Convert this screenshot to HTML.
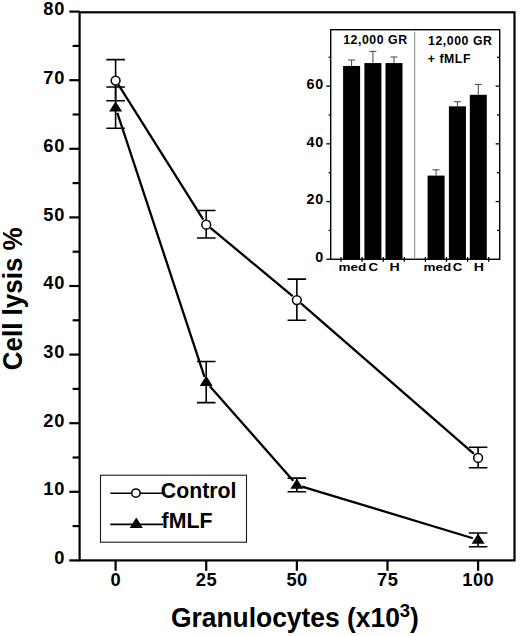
<!DOCTYPE html>
<html><head><meta charset="utf-8"><title>Cell lysis chart</title>
<style>html,body{margin:0;padding:0;background:#fff}svg{display:block}text{font-family:"Liberation Sans",sans-serif;font-weight:bold;fill:#000}</style></head><body>
<svg width="520" height="636" viewBox="0 0 520 636">
<rect width="520" height="636" fill="#fff"/>
<g stroke="#000" stroke-width="2.2" fill="none">
<rect x="79.6" y="12.3" width="434.9" height="548.1"/>
<line x1="69.3" y1="560.40" x2="79.6" y2="560.40"/>
<line x1="72.6" y1="526.10" x2="79.6" y2="526.10"/>
<line x1="69.3" y1="491.80" x2="79.6" y2="491.80"/>
<line x1="72.6" y1="457.50" x2="79.6" y2="457.50"/>
<line x1="69.3" y1="423.20" x2="79.6" y2="423.20"/>
<line x1="72.6" y1="388.90" x2="79.6" y2="388.90"/>
<line x1="69.3" y1="354.60" x2="79.6" y2="354.60"/>
<line x1="72.6" y1="320.30" x2="79.6" y2="320.30"/>
<line x1="69.3" y1="286.00" x2="79.6" y2="286.00"/>
<line x1="72.6" y1="251.70" x2="79.6" y2="251.70"/>
<line x1="69.3" y1="217.40" x2="79.6" y2="217.40"/>
<line x1="72.6" y1="183.10" x2="79.6" y2="183.10"/>
<line x1="69.3" y1="148.80" x2="79.6" y2="148.80"/>
<line x1="72.6" y1="114.50" x2="79.6" y2="114.50"/>
<line x1="69.3" y1="80.20" x2="79.6" y2="80.20"/>
<line x1="72.6" y1="45.90" x2="79.6" y2="45.90"/>
<line x1="69.3" y1="11.60" x2="79.6" y2="11.60"/>
<line x1="115.60" y1="560.4" x2="115.60" y2="570.8"/>
<line x1="206.22" y1="560.4" x2="206.22" y2="570.8"/>
<line x1="296.85" y1="560.4" x2="296.85" y2="570.8"/>
<line x1="387.48" y1="560.4" x2="387.48" y2="570.8"/>
<line x1="478.10" y1="560.4" x2="478.10" y2="570.8"/>
</g>
<text x="65.4" y="563.80" font-size="18.3" letter-spacing="0.9" text-anchor="end">0</text>
<text x="65.4" y="495.20" font-size="18.3" letter-spacing="0.9" text-anchor="end">10</text>
<text x="65.4" y="426.60" font-size="18.3" letter-spacing="0.9" text-anchor="end">20</text>
<text x="65.4" y="358.00" font-size="18.3" letter-spacing="0.9" text-anchor="end">30</text>
<text x="65.4" y="289.40" font-size="18.3" letter-spacing="0.9" text-anchor="end">40</text>
<text x="65.4" y="220.80" font-size="18.3" letter-spacing="0.9" text-anchor="end">50</text>
<text x="65.4" y="152.20" font-size="18.3" letter-spacing="0.9" text-anchor="end">60</text>
<text x="65.4" y="83.60" font-size="18.3" letter-spacing="0.9" text-anchor="end">70</text>
<text x="65.4" y="15.00" font-size="18.3" letter-spacing="0.9" text-anchor="end">80</text>
<text x="115.80" y="586.4" font-size="18.3" letter-spacing="0.5" text-anchor="middle">0</text>
<text x="206.42" y="586.4" font-size="18.3" letter-spacing="0.5" text-anchor="middle">25</text>
<text x="297.05" y="586.4" font-size="18.3" letter-spacing="0.5" text-anchor="middle">50</text>
<text x="387.68" y="586.4" font-size="18.3" letter-spacing="0.5" text-anchor="middle">75</text>
<text x="478.30" y="586.4" font-size="18.3" letter-spacing="0.5" text-anchor="middle">100</text>
<text transform="translate(171,626.6) scale(1,1.04)" font-size="26.4">Granulocytes (x10<tspan font-size="18.5" dy="-9.5">3</tspan><tspan dy="9.5">)</tspan></text>
<text transform="translate(22.4,298.8) rotate(-90) scale(1,1.06)" font-size="26" text-anchor="middle">Cell lysis %</text>
<path d="M118.53 84.86L203.30 219.60M210.45 227.78L292.62 296.20M301.00 303.33L473.95 453.89" fill="none" stroke="#000" stroke-width="2.3"/>
<path d="M117.32 112.86L204.50 376.82M209.86 386.17L293.21 480.81M302.11 486.53L472.84 538.23" fill="none" stroke="#000" stroke-width="2.3"/>
<g stroke="#000" stroke-width="1.6" fill="none">
<path d="M115.60 59.62V100.78M106.30 59.62h18.6M106.30 100.78h18.6"/>
<path d="M206.22 210.54V237.98M196.92 210.54h18.6M196.92 237.98h18.6"/>
<path d="M296.85 279.14V320.30M287.55 279.14h18.6M287.55 320.30h18.6"/>
<path d="M478.10 447.21V467.79M468.80 447.21h18.6M468.80 467.79h18.6"/>
<path d="M115.60 87.06V128.22M106.30 87.06h18.6M106.30 128.22h18.6"/>
<path d="M206.22 361.46V402.62M196.92 361.46h18.6M196.92 402.62h18.6"/>
<path d="M296.85 478.08V491.80M287.55 478.08h18.6M287.55 491.80h18.6"/>
<path d="M478.10 532.96V546.68M468.80 532.96h18.6M468.80 546.68h18.6"/>
</g>
<circle cx="115.60" cy="80.60" r="4.4" fill="#fff" stroke="#000" stroke-width="1.5"/>
<circle cx="206.22" cy="224.66" r="4.4" fill="#fff" stroke="#000" stroke-width="1.5"/>
<circle cx="296.85" cy="300.12" r="4.4" fill="#fff" stroke="#000" stroke-width="1.5"/>
<circle cx="478.10" cy="457.90" r="4.4" fill="#fff" stroke="#000" stroke-width="1.5"/>
<path d="M115.60 101.34L122.10 111.54H109.10Z" fill="#000"/>
<path d="M206.22 375.74L212.72 385.94H199.72Z" fill="#000"/>
<path d="M296.85 478.64L303.35 488.84H290.35Z" fill="#000"/>
<path d="M478.10 533.52L484.60 543.72H471.60Z" fill="#000"/>
<rect x="100.5" y="475.2" width="146" height="67" fill="#fff" stroke="#1a1a1a" stroke-width="1.1"/>
<line x1="110.3" y1="493.2" x2="163" y2="493.2" stroke="#000" stroke-width="1.6"/>
<circle cx="135.9" cy="493.1" r="4.2" fill="#fff" stroke="#000" stroke-width="1.5"/>
<text x="160.8" y="498.2" font-size="21.3">Control</text>
<line x1="110.3" y1="524.4" x2="163" y2="524.4" stroke="#000" stroke-width="1.6"/>
<path d="M136.3 517.6L142.9 528.1H129.7Z" fill="#000"/>
<text x="161.6" y="528.4" font-size="21.3">fMLF</text>
<rect x="330.7" y="29.7" width="169.0" height="229.55" fill="#fff" stroke="#000" stroke-width="1.4"/>
<line x1="414.7" y1="31.7" x2="414.7" y2="259.25" stroke="#777" stroke-width="0.9"/>
<g stroke="#000" stroke-width="1.3">
<line x1="326.3" y1="259.25" x2="330.7" y2="259.25"/>
<line x1="328.6" y1="230.40" x2="330.7" y2="230.40"/>
<line x1="497" y1="230.40" x2="499.7" y2="230.40"/>
<line x1="326.3" y1="201.55" x2="330.7" y2="201.55"/>
<line x1="495.6" y1="201.55" x2="499.7" y2="201.55"/>
<line x1="328.6" y1="172.70" x2="330.7" y2="172.70"/>
<line x1="497" y1="172.70" x2="499.7" y2="172.70"/>
<line x1="326.3" y1="143.85" x2="330.7" y2="143.85"/>
<line x1="495.6" y1="143.85" x2="499.7" y2="143.85"/>
<line x1="328.6" y1="115.00" x2="330.7" y2="115.00"/>
<line x1="497" y1="115.00" x2="499.7" y2="115.00"/>
<line x1="326.3" y1="86.15" x2="330.7" y2="86.15"/>
<line x1="495.6" y1="86.15" x2="499.7" y2="86.15"/>
<line x1="328.6" y1="57.30" x2="330.7" y2="57.30"/>
<line x1="497" y1="57.30" x2="499.7" y2="57.30"/>
<line x1="341.00" y1="257.05" x2="341.00" y2="261.85"/>
<line x1="362.10" y1="257.05" x2="362.10" y2="261.85"/>
<line x1="383.20" y1="257.05" x2="383.20" y2="261.85"/>
<line x1="404.30" y1="257.05" x2="404.30" y2="261.85"/>
<line x1="425.40" y1="257.05" x2="425.40" y2="261.85"/>
<line x1="446.50" y1="257.05" x2="446.50" y2="261.85"/>
<line x1="467.60" y1="257.05" x2="467.60" y2="261.85"/>
<line x1="488.70" y1="257.05" x2="488.70" y2="261.85"/>
</g>
<rect x="343.10" y="65.96" width="17" height="193.29" fill="#000"/>
<path d="M351.60 65.96V60.04M348.10 60.04h7" stroke="#444" stroke-width="1" fill="none"/>
<rect x="364.40" y="63.07" width="17" height="196.18" fill="#000"/>
<path d="M372.90 63.07V51.36M369.40 51.36h7" stroke="#444" stroke-width="1" fill="none"/>
<rect x="385.50" y="63.07" width="17" height="196.18" fill="#000"/>
<path d="M394.00 63.07V57.01M390.50 57.01h7" stroke="#444" stroke-width="1" fill="none"/>
<rect x="427.60" y="175.59" width="17" height="83.66" fill="#000"/>
<path d="M436.10 175.59V169.81M432.60 169.81h7" stroke="#444" stroke-width="1" fill="none"/>
<rect x="448.90" y="106.34" width="17" height="152.91" fill="#000"/>
<path d="M457.40 106.34V101.73M453.90 101.73h7" stroke="#444" stroke-width="1" fill="none"/>
<rect x="469.80" y="94.81" width="17" height="164.44" fill="#000"/>
<path d="M478.30 94.81V84.42M474.80 84.42h7" stroke="#444" stroke-width="1" fill="none"/>
<text x="324.1" y="261.95" font-size="14.3" letter-spacing="0.9" text-anchor="end">0</text>
<text x="324.1" y="204.25" font-size="14.3" letter-spacing="0.9" text-anchor="end">20</text>
<text x="324.1" y="146.55" font-size="14.3" letter-spacing="0.9" text-anchor="end">40</text>
<text x="324.1" y="88.85" font-size="14.3" letter-spacing="0.9" text-anchor="end">60</text>
<g font-size="12.3" letter-spacing="0.55">
<text x="343.2" y="43.8">12,000 GR</text>
<text x="428" y="44.5">12,000 GR</text>
<text x="427.7" y="63">+ fMLF</text>
</g>
<g font-size="11.8">
<text x="338.4" y="271.3" textLength="27.8" lengthAdjust="spacingAndGlyphs">med</text>
<text x="368.4" y="271.3" textLength="9.6" lengthAdjust="spacingAndGlyphs">C</text>
<text x="389.4" y="271.3" textLength="10.2" lengthAdjust="spacingAndGlyphs">H</text>
<text x="423.4" y="271.3" textLength="27.8" lengthAdjust="spacingAndGlyphs">med</text>
<text x="452.8" y="271.3" textLength="9.6" lengthAdjust="spacingAndGlyphs">C</text>
<text x="473.8" y="271.3" textLength="10.2" lengthAdjust="spacingAndGlyphs">H</text>
</g>
</svg></body></html>
